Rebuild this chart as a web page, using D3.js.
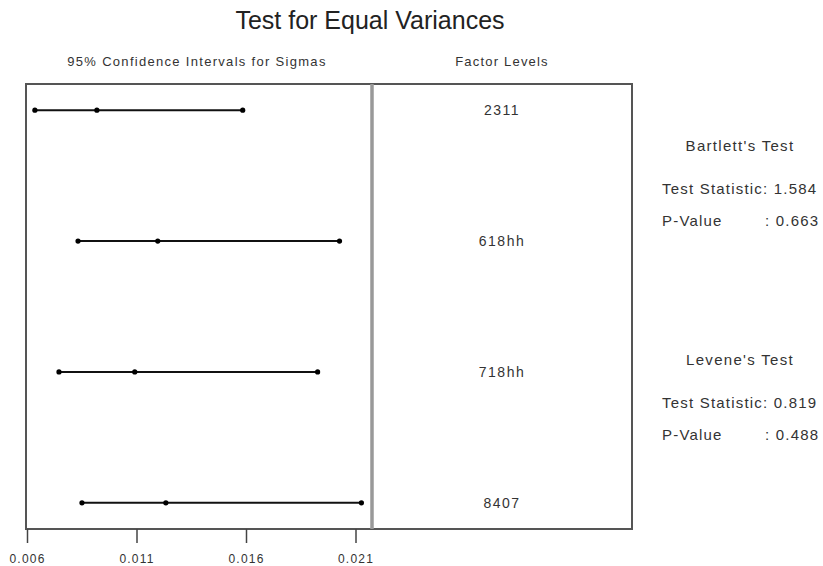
<!DOCTYPE html>
<html>
<head>
<meta charset="utf-8">
<script src="https://cdn.jsdelivr.net/npm/d3@7"></script>
<style>
  body { margin: 0; background: #fff; }
  text { font-family: Arial, "Liberation Sans", sans-serif; fill: #333; }
</style>
</head>
<body>
<div id="chart"></div>
<script>
// factor levels and 95% CI for sigma (lower, estimate, upper)
const levels = ["2311", "618hh", "718hh", "8407"];
const lower = [0.00636, 0.00833, 0.00746, 0.00851];
const sigma = [0.00919, 0.01197, 0.01092, 0.01234];
const upper = [0.01585, 0.02027, 0.01927, 0.02127];
const xTicks = [0.006, 0.011, 0.016, 0.021];

const bartlett = {stat: "1.584", p: "0.663"};
const levene = {stat: "0.819", p: "0.488"};

const width = 823, height = 566;
const box = {left: 26, top: 84, right: 632, bottom: 529, divider: 372};

const svg = d3.select("#chart")
    .append("svg")
    .attr("width", width)
    .attr("height", height);

const xScale = d3.scaleLinear()
    .domain([0.006, 0.021])
    .range([27, 355.5]);

const yScale = d3.scalePoint()
    .domain(levels)
    .range([box.top, box.bottom])
    .padding(0.2);

const rows = levels.map((lv, i) => ({level: lv, lo: lower[i], mid: sigma[i], hi: upper[i]}));

//title
svg.append("text")
    .attr("x", 370)
    .attr("y", 29)
    .attr("text-anchor", "middle")
    .attr("font-size", "25px")
    .style("fill", "#222")
    .text("Test for Equal Variances");

//column headers
svg.append("text")
    .attr("x", 197)
    .attr("y", 66)
    .attr("text-anchor", "middle")
    .attr("font-size", "13px")
    .attr("letter-spacing", "1.3px")
    .text("95% Confidence Intervals for Sigmas");

svg.append("text")
    .attr("x", 502)
    .attr("y", 66)
    .attr("text-anchor", "middle")
    .attr("font-size", "13px")
    .attr("letter-spacing", "1.2px")
    .text("Factor Levels");

//frame
svg.append("rect")
    .attr("x", box.left)
    .attr("y", box.top)
    .attr("width", box.right - box.left)
    .attr("height", box.bottom - box.top)
    .attr("fill", "none")
    .attr("stroke", "#555")
    .attr("stroke-width", 2);

svg.append("line")
    .attr("x1", box.divider)
    .attr("x2", box.divider)
    .attr("y1", box.top)
    .attr("y2", box.bottom)
    .attr("stroke", "#999")
    .attr("stroke-width", 3.5);

//intervals
const ci = svg.append("g");

ci.selectAll("line")
    .data(rows)
    .enter()
    .append("line")
    .attr("x1", d => xScale(d.lo))
    .attr("x2", d => xScale(d.hi))
    .attr("y1", d => yScale(d.level))
    .attr("y2", d => yScale(d.level))
    .attr("stroke", "#111")
    .attr("stroke-width", 2);

ci.selectAll("circle")
    .data(rows.flatMap(d => [d.lo, d.mid, d.hi].map(v => ({level: d.level, v}))))
    .enter()
    .append("circle")
    .attr("cx", d => xScale(d.v))
    .attr("cy", d => yScale(d.level))
    .attr("r", 2.6)
    .attr("fill", "#000");

//factor labels
svg.append("g")
    .selectAll("text")
    .data(levels)
    .enter()
    .append("text")
    .attr("x", 502)
    .attr("y", d => yScale(d) + 5)
    .attr("text-anchor", "middle")
    .attr("font-size", "14px")
    .attr("letter-spacing", "1.5px")
    .text(d => d);

//x axis
const xAxis = svg.append("g")
    .attr("transform", `translate(0,${box.bottom})`)
    .call(d3.axisBottom(xScale)
        .tickValues(xTicks)
        .tickFormat(d3.format(".3f"))
        .tickSize(14)
        .tickSizeOuter(0));

xAxis.select(".domain").remove();
xAxis.selectAll(".tick line").attr("stroke", "#444").attr("stroke-width", 1.5);
xAxis.selectAll(".tick text")
    .attr("y", 25)
    .attr("font-size", "12px")
    .attr("letter-spacing", "1.2px")
    .attr("font-family", "Arial, 'Liberation Sans', sans-serif")
    .style("fill", "#333");

//test results
function testBlock(title, res, y0) {
    const g = svg.append("g");
    g.append("text")
        .attr("x", 740)
        .attr("y", y0)
        .attr("text-anchor", "middle")
        .attr("font-size", "15px")
        .attr("letter-spacing", "1.3px")
        .text(title);
    g.append("text")
        .attr("x", 662)
        .attr("y", y0 + 43)
        .attr("font-size", "15px")
        .attr("letter-spacing", "1.2px")
        .text("Test Statistic: " + res.stat);
    g.append("text")
        .attr("x", 662)
        .attr("y", y0 + 75)
        .attr("font-size", "15px")
        .attr("letter-spacing", "1.2px")
        .text("P-Value");
    g.append("text")
        .attr("x", 765)
        .attr("y", y0 + 75)
        .attr("font-size", "15px")
        .attr("letter-spacing", "1.2px")
        .text(": " + res.p);
}

testBlock("Bartlett's Test", bartlett, 151);
testBlock("Levene's Test", levene, 365);
</script>
</body>
</html>
